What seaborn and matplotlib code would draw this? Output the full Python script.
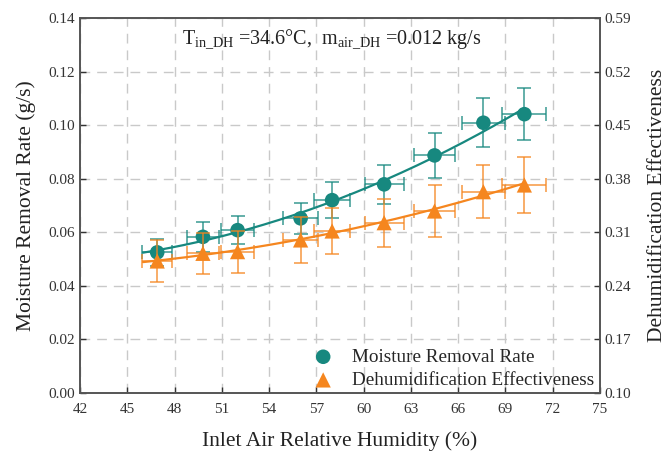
import numpy as np
import pandas as pd
import matplotlib
matplotlib.use("Agg")
import matplotlib.pyplot as plt
import seaborn as sns

# ---- data ----
rh = [46.9, 49.8, 52.0, 56.0, 58.0, 61.3, 64.5, 67.6, 70.2]
rh_err = [0.94, 1.00, 1.04, 1.12, 1.16, 1.23, 1.29, 1.35, 1.40]
mrr = [0.0525, 0.0583, 0.0608, 0.0652, 0.0720, 0.0779, 0.0887, 0.1009, 0.1041]
mrr_err = [0.0049, 0.0056, 0.0053, 0.0058, 0.0066, 0.0072, 0.0084, 0.0091, 0.0098]
eff = [0.2725, 0.2825, 0.2847, 0.3000, 0.3117, 0.3225, 0.3378, 0.3630, 0.3718]
eff_err = [0.027, 0.027, 0.0274, 0.0296, 0.0305, 0.0314, 0.0335, 0.0348, 0.036]

x_ticks = [42, 45, 48, 51, 54, 57, 60, 63, 66, 69, 72, 75]
y1_ticks = [0.00, 0.02, 0.04, 0.06, 0.08, 0.10, 0.12, 0.14]
y2_ticks = [0.10, 0.17, 0.24, 0.31, 0.38, 0.45, 0.52, 0.59]

teal = "#17887f"
orange = "#f5861f"

sns.set_theme(style="ticks")
plt.rcParams["font.family"] = ["Liberation Serif", "DejaVu Serif"]
plt.rcParams["mathtext.fontset"] = "custom"
plt.rcParams["mathtext.rm"] = "Liberation Serif"
plt.rcParams["mathtext.it"] = "Liberation Serif:italic"

df = pd.DataFrame({"rh": rh, "mrr": mrr, "eff": eff})

fig = plt.figure(figsize=(6.68, 4.55), dpi=100)
ax = fig.add_axes([80 / 668, 62 / 455, 520 / 668, 375 / 455])
ax2 = ax.twinx()

# fitted trend lines (quadratic fit of the data)
xf = np.linspace(46.0, max(rh), 200)
fit1 = np.polyval(np.polyfit(rh, mrr, 2), xf)
fit2 = np.polyval(np.polyfit(rh, eff, 2), xf)
sns.lineplot(x=xf, y=fit1, ax=ax, color=teal, lw=1.6, zorder=3)
sns.lineplot(x=xf, y=fit2, ax=ax2, color=orange, lw=1.6, zorder=3)

# error bars
ax.errorbar(rh, mrr, xerr=rh_err, yerr=mrr_err, fmt="none", ecolor=teal,
            elinewidth=1.1, capsize=5, capthick=1.1, alpha=0.85, zorder=3)
ax2.errorbar(rh, eff, xerr=rh_err, yerr=eff_err, fmt="none", ecolor=orange,
             elinewidth=1.1, capsize=5, capthick=1.1, alpha=0.85, zorder=3)

# markers
sns.scatterplot(data=df, x="rh", y="mrr", ax=ax, color=teal, marker="o", s=110,
                edgecolor="none", zorder=4, label="Moisture Removal Rate", legend=False)
sns.scatterplot(data=df, x="rh", y="eff", ax=ax2, color=orange, marker="^", s=120,
                edgecolor="none", zorder=4, label="Dehumidification Effectiveness", legend=False)

ax.set_xlim(42, 75)
ax.set_ylim(0, 0.14)
ax2.set_ylim(0.10, 0.59)
ax.set_xticks(x_ticks)
ax.set_yticks(y1_ticks)
ax2.set_yticks(y2_ticks)
ax.set_yticklabels([f"{v:.2f}" for v in y1_ticks])
ax2.set_yticklabels([f"{v:.2f}" for v in y2_ticks])

ax.grid(True, color="#c9c9c9", linestyle=(0, (7, 5)), linewidth=1.0)
ax.set_axisbelow(True)

for a in (ax, ax2):
    a.tick_params(direction="in", labelsize=11, colors="#333333", length=4, width=1)
    for s in a.spines.values():
        s.set_color("#555555")
        s.set_linewidth(1.2)
ax.tick_params(axis="x", pad=7)

ax.set_xlabel("Inlet Air Relative Humidity (%)", fontsize=15.5, labelpad=11, color="#222222")
ax.set_ylabel("Moisture Removal Rate (g/s)", fontsize=15.5, labelpad=9, color="#222222")
ax2.set_ylabel("Dehumidification Effectiveness", fontsize=15.5, labelpad=12, color="#222222")

ax.text(0.484, 0.945,
        r"T$_{\mathrm{in\_DH}}$ =34.6°C,  m$_{\mathrm{air\_DH}}$ =0.012 kg/s",
        transform=ax.transAxes, ha="center", va="center", fontsize=14.5, color="#222222")

h1, l1 = ax.get_legend_handles_labels()
h2, l2 = ax2.get_legend_handles_labels()
ax2.legend(h1 + h2, l1 + l2, loc="lower left", bbox_to_anchor=(0.405, -0.025),
           frameon=False, fontsize=13.8, handletextpad=0.5, labelspacing=0.3,
           borderaxespad=0.3, markerscale=1.0)

fig.savefig("out.png", dpi=100)
